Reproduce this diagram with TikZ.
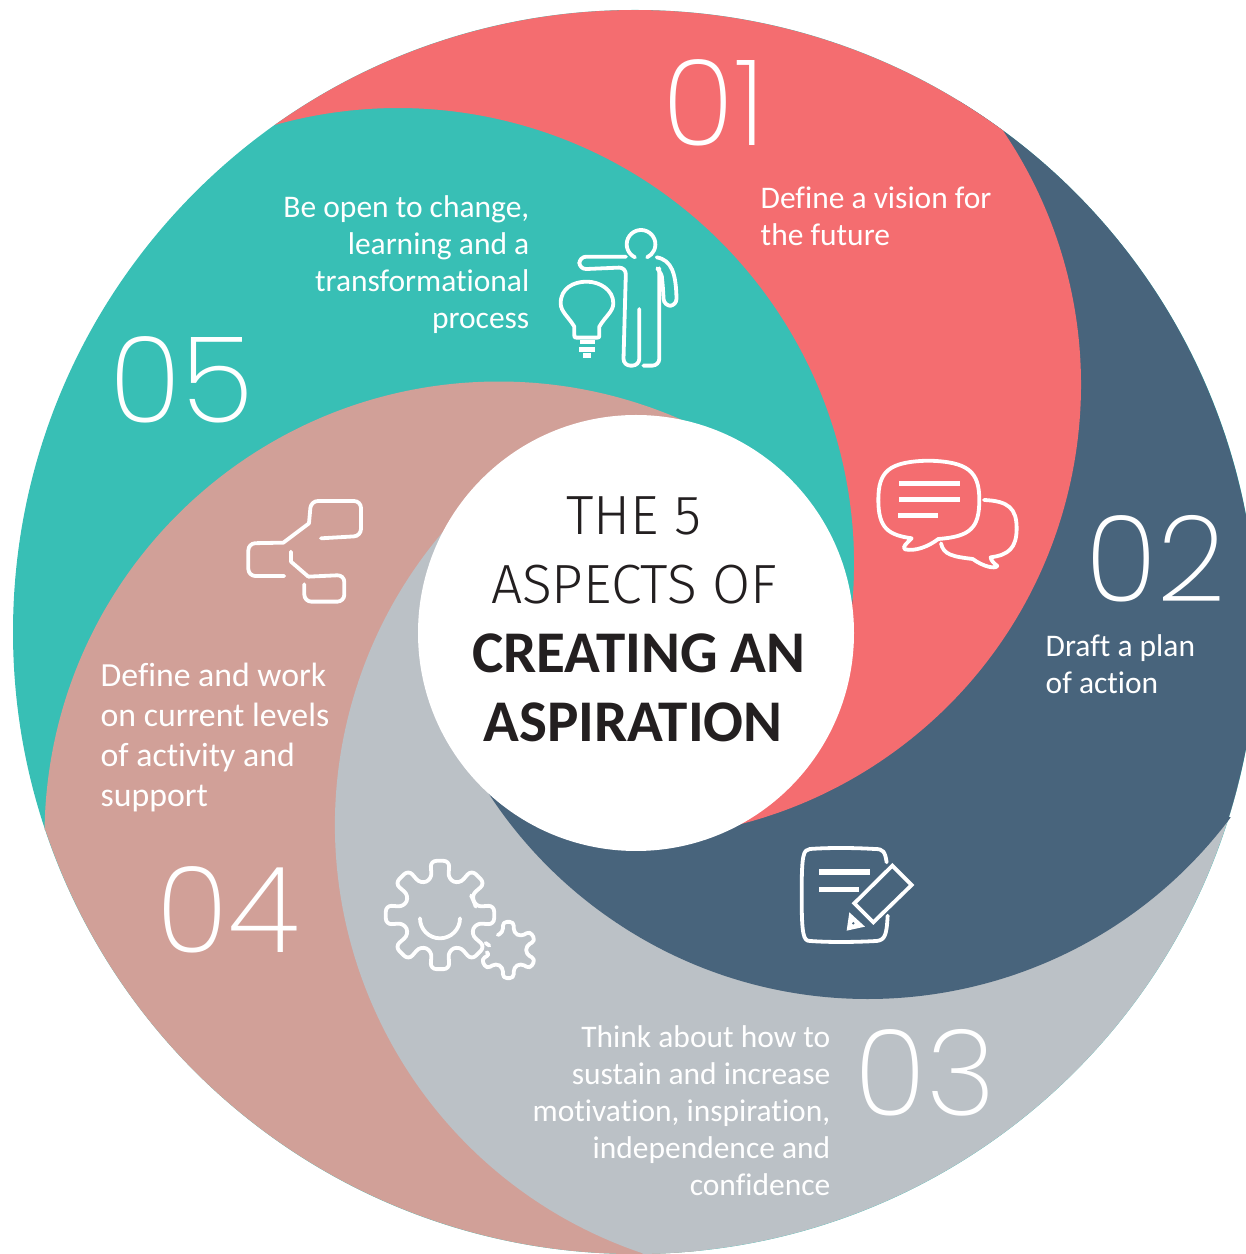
\documentclass[tikz,border=0pt]{standalone}
\usepackage{fontspec}
\setmainfont{Carlito}[Ligatures=NoCommon]
\newfontfamily\lightfont{Fira Sans Light}
\newfontfamily\thinfont{Poppins ExtraLight}
\usetikzlibrary{positioning, calc}
\definecolor{redarm}{RGB}{244,109,112}
\definecolor{bluearm}{RGB}{72,100,124}
\definecolor{grayarm}{RGB}{187,193,198}
\definecolor{pinkarm}{RGB}{209,160,152}
\definecolor{tealarm}{RGB}{56,191,181}
\definecolor{inkcolor}{RGB}{35,31,32}
\tikzset{
    pxframe/.style={shift={(0,1254)},yscale=-1},
    bignum/.style={text=white,inner sep=0pt,font=\thinfont\fontsize{34}{34}\selectfont},
    armtext/.style={text=white,inner sep=0pt,font=\fontsize{8.95}{10.55}\selectfont},
    headlight/.style={text=inkcolor,inner sep=0pt,font=\lightfont\fontsize{15.7}{16}\selectfont},
    headbold/.style={text=inkcolor,inner sep=0pt,font=\bfseries\fontsize{16.8}{17}\selectfont},
    iconline/.style={draw=white,line width=0.38mm,fill=none,line cap=round,line join=round},
    iconbar/.style={fill=white,draw=none},
}
\begin{document}
\begin{tikzpicture}[x=0.01cm,y=0.01cm]
\newcommand{\outerradiustikz}{622}
\useasboundingbox (0,0) rectangle (1246,1254);
\clip (0,0) rectangle (1246,1254);

\coordinate (cO) at (635,622);
\coordinate (cW) at (636,621);
\coordinate (cR) at (627.5,869);
\coordinate (cB) at (868,708);
\coordinate (cG) at (787,429);
\coordinate (cP) at (499,418);
\coordinate (cT) at (398,690);

% base disc, then the arms one over the other
\fill[tealarm] (cO) circle (\outerradiustikz);

\fill[pinkarm] ([shift={(cP)}]179.2:454.5) arc[start angle=179.2,end angle=54,radius=454.5] -- (cW) -- ([shift={(cO)}]276:\outerradiustikz) arc[start angle=276,end angle=198.6,radius=\outerradiustikz] -- cycle;

\fill[grayarm] ([shift={(cG)}]251.4:452) arc[start angle=251.4,end angle=126.2,radius=452] -- (cW) -- ([shift={(cO)}]346.3:\outerradiustikz) arc[start angle=346.3,end angle=270.7,radius=\outerradiustikz] -- cycle;

\fill[bluearm] ([shift={(cB)}]323.2:453) arc[start angle=323.2,end angle=202.6,radius=453] -- (cW) -- (840,614) -- (900,804) -- ([shift={(cO)}]58.6:\outerradiustikz) arc[start angle=58.6,end angle=-17.3,radius=\outerradiustikz] -- cycle;

\fill[redarm] ([shift={(cO)}]125.4:\outerradiustikz) arc[start angle=125.4,end angle=53.8,radius=\outerradiustikz] -- ([shift={(cR)}]34.2:453.5) arc[start angle=34.2,end angle=-87.2,radius=453.5] -- ([shift={(cT)}]-10.9:456) arc[start angle=-10.9,end angle=105.7,radius=456] -- cycle;

\fill[white] (cW) circle (218);

\begin{scope}[pxframe]
% centre text
\node[headlight] (line1) at (634,516) {THE 5};
\node[headlight] (line2) at (634,585) {ASPECTS OF};
\node[headbold] (line3) at (639,653) {CREATING AN};
\node[headbold] (line4) at (633,722) {ASPIRATION};

% numbers
\node[bignum] (num1) at (714,103) {01};
\node[bignum] (num2) at (1156,559) {02};
\node[bignum] (num3) at (925,1073) {03};
\node[bignum] (num4) at (228,910) {04};
\node[bignum] (num5) at (182,380) {05};

% labels
\node[armtext,align=left,anchor=north west] (text1) at (760,186) {Define a vision for\\the future};
\node[armtext,align=left,anchor=north west] (text2) at (1045,634) {Draft a plan\\of action};
\node[armtext,align=right,anchor=north east] (text3) at (831,1025) {Think about how to\\sustain and increase\\motivation, inspiration,\\independence and\\confidence};
\node[armtext,align=right,anchor=north east] (text5) at (530,195) {Be open to change,\\learning and a\\transformational\\process};
\node[armtext,align=left,anchor=north west,font=\fontsize{9.6}{11.4}\selectfont] (text4) at (100,662) {Define and work\\on current levels\\of activity and\\support};

% person and bulb
\begin{scope}[shift={(540,210)},scale=0.3333]
\draw[iconline] (285,142) arc[start angle=115,end angle=425,radius=43];
\draw[iconline,rounded corners=0.7mm] (258,140) -- (118,140) -- (118,178) -- (258,172) -- (250,467) -- (298,467) -- (298,297);
\draw[iconline,rounded corners=0.7mm] (310,467) -- (358,467) -- (358,175);
\draw[iconline,rounded corners=0.7mm] (350,142) .. controls (395,150) and (408,190) .. (410,287) -- (372,288) -- (368,220) .. controls (365,195) .. (352,175);
\draw[iconline] (103,350) .. controls (85,320) and (62,305) .. (62,280) .. controls (62,235) and (100,215) .. (140,215) .. controls (180,215) and (220,240) .. (220,280) .. controls (220,305) and (195,320) .. (178,350) -- (178,372) .. controls (178,383) .. (168,383) -- (113,383) .. controls (103,383) .. (103,372) -- cycle;
\fill[iconbar] (120,390) rectangle (165,402);
\fill[iconbar] (118,412) rectangle (165,425);
\fill[iconbar] (130,430) rectangle (153,443);
\end{scope}

% speech bubbles
\begin{scope}[shift={(860,440)},scale=0.3333]
\draw[iconline] (155,295) .. controls (85,285) and (55,265) .. (55,180) .. controls (55,95) and (85,65) .. (205,62) .. controls (325,65) and (358,95) .. (358,180) .. controls (358,265) and (330,290) .. (235,297) .. controls (205,320) and (165,335) .. (135,328) .. controls (125,322) and (140,310) .. (155,295) -- cycle;
\draw[iconline] (372,180) .. controls (445,183) and (470,205) .. (470,265) .. controls (470,325) and (445,345) .. (392,352) .. controls (392,362) and (405,372) .. (412,378) .. controls (405,388) and (370,380) .. (338,357) .. controls (280,350) and (250,345) .. (243,310);
\fill[iconbar] (117,123) rectangle (300,138);
\fill[iconbar] (117,171) rectangle (300,186);
\fill[iconbar] (114,219) rectangle (234,234);
\end{scope}

% page and pencil
\begin{scope}[shift={(785,835)},scale=0.3333]
\draw[iconline] (305,82) .. controls (300,50) and (295,42) .. (270,42) .. controls (200,38) and (130,38) .. (75,42) .. controls (55,45) and (50,55) .. (50,180) .. controls (50,300) and (55,318) .. (75,318) .. controls (130,322) and (200,322) .. (275,318) .. controls (300,315) and (305,300) .. (308,242);
\draw[iconline,line join=miter] (322,92) -- (380,150) -- (265,262) -- (208,205) -- cycle;
\fill[iconbar] (193,232) -- (240,275) -- (185,287) -- cycle;
\fill[bluearm] (205,265) circle (4);
\fill[iconbar] (102,102) rectangle (255,119);
\fill[iconbar] (102,155) rectangle (222,172);
\end{scope}

% gears
\begin{scope}[shift={(370,850)},scale=0.3333]
\begin{scope}[shift={(210,195)}]
\draw[iconline,rounded corners=0.6mm] (-22.5:110) \foreach \a in {0,45,...,315} { -- (\a-13:110) -- (\a-10:165) -- (\a+10:165) -- (\a+13:110)} -- cycle;
\end{scope}
\draw[iconline] (150,205) arc[start angle=180,end angle=0,radius=60];
\begin{scope}[shift={(415,300)}]
\draw[iconline,rounded corners=0.4mm] (-125:55) \foreach \a in {-90,-30,30,90,150} { -- (\a-17:55) -- (\a-11:86) -- (\a+11:86) -- (\a+17:55)} -- (172:62);
\end{scope}
\draw[iconline] (347,279) -- (358,287);
\end{scope}

% tree of boxes
\begin{scope}[shift={(235,490)},scale=0.3333]
\draw[iconline,rounded corners=0.7mm] (258,145) -- (378,138) -- (378,33) -- (228,33) [sharp corners] -- (222,100) -- (145,158) [rounded corners=0.7mm] -- (40,160) -- (40,258) -- (148,258);
\draw[iconline] (168,185) -- (168,215) -- (220,260);
\draw[iconline,rounded corners=0.7mm] (220,260) -- (328,255) -- (328,335) -- (208,335) -- (208,283);
\end{scope}
\end{scope}
\end{tikzpicture}
\end{document}
